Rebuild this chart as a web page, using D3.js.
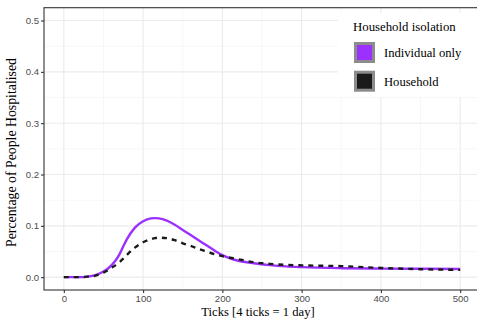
<!DOCTYPE html>
<html>
<head>
<meta charset="utf-8">
<script src="https://cdn.jsdelivr.net/npm/d3@7"></script>
<style>
  html, body { margin: 0; padding: 0; background: #fff; }
  svg { display: block; }
</style>
</head>
<body>
<svg id="chart" width="477" height="320"></svg>
<script>
// ---- data ----
const ticks = [0, 20, 30, 40, 50, 55, 60, 65, 70, 75, 80, 90, 100, 110, 115, 120, 130, 140, 150, 160, 170, 180, 190, 200, 220, 240, 260, 280, 300, 350, 400, 450, 500];
const individualOnly = [0, 0, 0.001, 0.004, 0.011, 0.016, 0.023, 0.032, 0.044, 0.060, 0.075, 0.097, 0.109, 0.1145, 0.115, 0.1145, 0.110, 0.102, 0.092, 0.082, 0.072, 0.062, 0.052, 0.043, 0.032, 0.027, 0.0235, 0.021, 0.0195, 0.0175, 0.0167, 0.0163, 0.016];
const household = [0, 0, 0.001, 0.003, 0.009, 0.013, 0.018, 0.023, 0.029, 0.036, 0.044, 0.058, 0.068, 0.074, 0.076, 0.077, 0.076, 0.072, 0.066, 0.061, 0.055, 0.050, 0.045, 0.041, 0.035, 0.029, 0.026, 0.024, 0.023, 0.0215, 0.018, 0.0155, 0.0142];
const seriesNames = ["Individual only", "Household"];
const seriesColors = ["#9b30ff", "#1a1a1a"];
const xTicks = [0, 100, 200, 300, 400, 500];
const xMinor = [50, 150, 250, 350, 450];
const yTicks = [0.0, 0.1, 0.2, 0.3, 0.4, 0.5];
const yMinor = [0.05, 0.15, 0.25, 0.35, 0.45];
const legendTitle = "Household isolation";
const xTitle = "Ticks [4 ticks = 1 day]";
const yTitle = "Percentage of People Hospitalised";

(function () {
// ---- layout ----
const svg = d3.select("#chart");
const pL = 44, pT = 7.7, pR = 480, pB = 290;
const serif = "'Liberation Serif', 'Times New Roman', Times, serif";
const x = d3.scaleLinear().domain([-25, 525]).range([pL, pR]);
const y = d3.scaleLinear().domain([-0.025, 0.525]).range([pB, pT]);

svg.append("rect").attr("x", pL).attr("y", pT).attr("width", pR - pL).attr("height", pB - pT).attr("fill", "#fff");

// grid
const grid = svg.append("g");
grid.selectAll(".xmin").data(xMinor).enter().append("line")
  .attr("x1", d => x(d)).attr("x2", d => x(d)).attr("y1", pT).attr("y2", pB)
  .attr("stroke", "#f2f2f2").attr("stroke-width", 0.6);
grid.selectAll(".ymin").data(yMinor).enter().append("line")
  .attr("y1", d => y(d)).attr("y2", d => y(d)).attr("x1", pL).attr("x2", pR)
  .attr("stroke", "#f2f2f2").attr("stroke-width", 0.6);
grid.selectAll(".xmaj").data(xTicks).enter().append("line")
  .attr("x1", d => x(d)).attr("x2", d => x(d)).attr("y1", pT).attr("y2", pB)
  .attr("stroke", "#ebebeb").attr("stroke-width", 1.1);
grid.selectAll(".ymaj").data(yTicks).enter().append("line")
  .attr("y1", d => y(d)).attr("y2", d => y(d)).attr("x1", pL).attr("x2", pR)
  .attr("stroke", "#ebebeb").attr("stroke-width", 1.1);

// lines
const line = (vals) => d3.line().curve(d3.curveMonotoneX)
  .x((d, i) => x(ticks[i])).y(d => y(d))(vals);
svg.append("path").attr("d", line(individualOnly)).attr("fill", "none")
  .attr("stroke", seriesColors[0]).attr("stroke-width", 2.4);
svg.append("path").attr("d", line(household)).attr("fill", "none")
  .attr("stroke", seriesColors[1]).attr("stroke-width", 2.4).attr("stroke-dasharray", "5,5");

// panel border
svg.append("rect").attr("x", pL).attr("y", pT).attr("width", pR - pL).attr("height", pB - pT)
  .attr("fill", "none").attr("stroke", "#333333").attr("stroke-width", 1.1);

// axes
const xAxis = d3.axisBottom(x).tickValues(xTicks).tickSize(3).tickPadding(2).tickFormat(d3.format("d"));
const gx = svg.append("g").attr("transform", `translate(0,${pB})`).call(xAxis);
const yAxis = d3.axisLeft(y).tickValues(yTicks).tickSize(3).tickPadding(2).tickFormat(d3.format(".1f"));
const gy = svg.append("g").attr("transform", `translate(${pL},0)`).call(yAxis);
[gx, gy].forEach(g => {
  g.select(".domain").remove();
  g.selectAll(".tick line").attr("stroke", "#333333").attr("stroke-width", 1.1);
  g.selectAll(".tick text").attr("fill", "#4d4d4d")
    .style("font-family", "'Liberation Sans', Arial, sans-serif").style("font-size", "9.6px");
});

// axis titles
svg.append("text").attr("x", 258).attr("y", 316).attr("text-anchor", "middle")
  .style("font-family", serif).style("font-size", "12.6px")
  .attr("fill", "#000").text(xTitle);
svg.append("text").attr("transform", `translate(16,152.5) rotate(-90)`).attr("text-anchor", "middle")
  .style("font-family", serif).style("font-size", "13.8px")
  .attr("fill", "#000").text(yTitle);

// legend
const lg = svg.append("g");
lg.append("rect").attr("x", 338).attr("y", 13).attr("width", 142).attr("height", 84).attr("fill", "#fff");
lg.append("text").attr("x", 353).attr("y", 31)
  .style("font-family", serif).style("font-size", "12.8px")
  .attr("fill", "#000").text(legendTitle);
seriesNames.forEach((name, i) => {
  const ky = 42 + i * 28.7;
  lg.append("rect").attr("x", 354).attr("y", ky).attr("width", 21).attr("height", 21).attr("fill", "#8c8c8c");
  lg.append("rect").attr("x", 357).attr("y", ky + 3).attr("width", 15).attr("height", 15).attr("fill", seriesColors[i]);
  lg.append("text").attr("x", 384).attr("y", ky + 15)
    .style("font-family", serif).style("font-size", "12.6px")
    .attr("fill", "#000").text(name);
});
})();
</script>
</body>
</html>
